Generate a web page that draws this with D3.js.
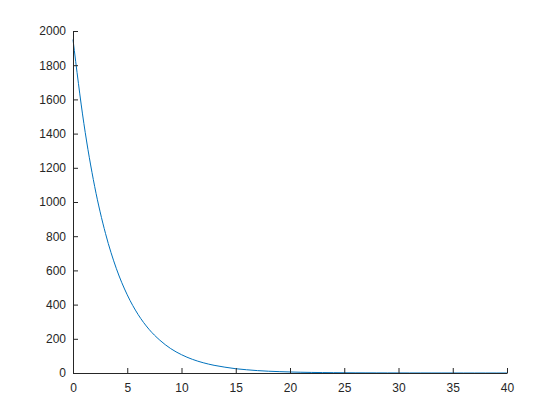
<!DOCTYPE html>
<html>
<head>
<meta charset="utf-8">
<script src="https://cdn.jsdelivr.net/npm/d3@7"></script>
<style>
	html, body { margin: 0; padding: 0; background: #fff; }
	svg { display: block; }
</style>
</head>
<body>
<div id="chart"></div>
<script>
//data
const xValues = d3.range(0, 41);
const yValues = [
	1950, 1460, 1090, 815, 610, 457, 342, 256, 192, 143,
	107, 80, 60, 45, 34, 25, 19, 14, 10.5, 8,
	6, 4.4, 3.3, 2.5, 1.9, 1.4, 1, 0.8, 0.6, 0.4,
	0.3, 0.2, 0.2, 0.1, 0.1, 0.1, 0, 0, 0, 0, 0,
];
const xTicks = [0, 5, 10, 15, 20, 25, 30, 35, 40];
const yTicks = [0, 200, 400, 600, 800, 1000, 1200, 1400, 1600, 1800, 2000];

const data = xValues.map((x, i) => ({ x: x, y: yValues[i] }));

const width = 560;
const height = 420;
const margin = { top: 31, right: 53, bottom: 47, left: 73 };
const axisColor = '#262626';
const lineColor = '#0072bd';
const tickSize = 5;

const svg = d3
	.select('#chart')
	.append('svg')
	.attr('width', width)
	.attr('height', height);

let x = d3
	.scaleLinear()
	.domain([0, 40])
	.range([margin.left, width - margin.right]);

let y = d3
	.scaleLinear()
	.domain([0, 2000])
	.range([height - margin.bottom, margin.top]);

//line
let line = d3
	.line()
	.x((d) => x(d.x))
	.y((d) => y(d.y))
	.curve(d3.curveMonotoneX);

svg
	.append('path')
	.datum(data)
	.attr('fill', 'none')
	.attr('stroke', lineColor)
	.attr('stroke-width', 1)
	.attr('d', line);

//axes
let xAxis = svg
	.append('g')
	.attr('transform', translation(0, height - margin.bottom))
	.call(
		d3.axisBottom(x)
			.tickValues(xTicks)
			.tickFormat(d3.format('d'))
			.tickSizeInner(-tickSize)
			.tickSizeOuter(0)
			.tickPadding(10)
	);

let yAxis = svg
	.append('g')
	.attr('transform', translation(margin.left, 0))
	.call(
		d3.axisLeft(y)
			.tickValues(yTicks)
			.tickFormat(d3.format('d'))
			.tickSizeInner(-tickSize)
			.tickSizeOuter(0)
			.tickPadding(7)
	);

[xAxis, yAxis].forEach((axis) => {
	axis.select('.domain').attr('stroke', axisColor);
	axis.selectAll('.tick line').attr('stroke', axisColor);
	axis
		.selectAll('.tick text')
		.attr('fill', axisColor)
		.attr('font-family', 'Liberation Sans, Arial, sans-serif')
		.attr('font-size', 12);
});

//utils
function translation(x, y) {
	return `translate(${x}, ${y})`;
}
</script>
</body>
</html>
